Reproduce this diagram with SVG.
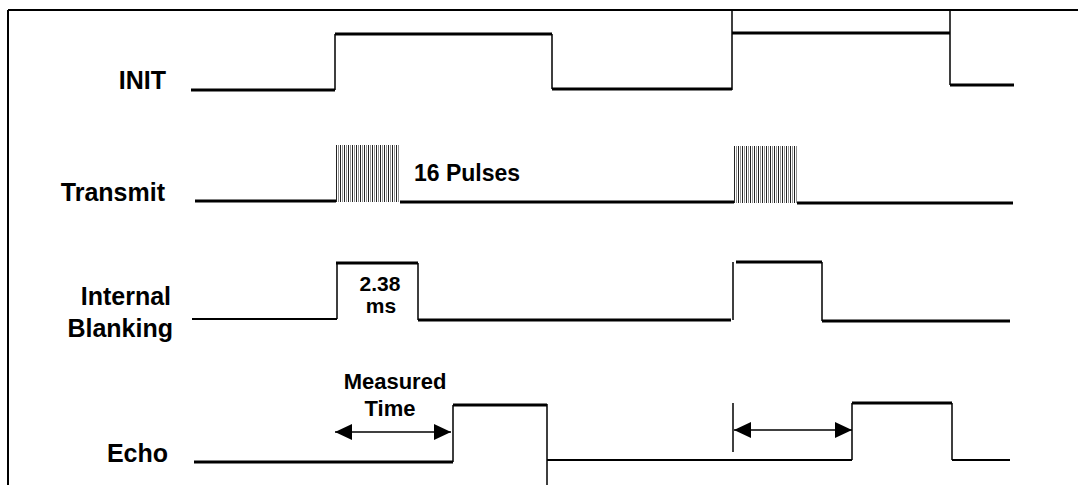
<svg xmlns="http://www.w3.org/2000/svg" width="1078" height="485" viewBox="0 0 1078 485">
<defs>
<style>
.lbl{font-family:"Liberation Sans",Arial,sans-serif;font-weight:bold;font-size:25px;fill:#000;text-anchor:end}
.note{font-family:"Liberation Sans",Arial,sans-serif;font-weight:bold;font-size:22px;fill:#000;text-anchor:middle}
.small{font-family:"Liberation Sans",Arial,sans-serif;font-weight:bold;font-size:21px;fill:#000;text-anchor:middle}
.h{stroke:#000;stroke-width:3;fill:none}
.hl{stroke:#000;stroke-width:2;fill:none}
.v{stroke:#000;stroke-width:1.5;fill:none}
.dim{stroke:#000;stroke-width:1.5;fill:none}
</style>
<marker id="ah" viewBox="0 0 17 16" refX="17" refY="8" markerWidth="17" markerHeight="16" markerUnits="userSpaceOnUse" orient="auto-start-reverse">
<path d="M0,0 L17,8 L0,16 z" fill="#000"/>
</marker>
<pattern id="pulses" x="336" y="0" width="4" height="10" patternUnits="userSpaceOnUse">
<rect x="0" y="0" width="1" height="10" fill="#222"/>
<rect x="2" y="0" width="0.8" height="10" fill="#777"/>
</pattern>
<pattern id="pulses2" x="734" y="0" width="4" height="10" patternUnits="userSpaceOnUse">
<rect x="0" y="0" width="1" height="10" fill="#222"/>
<rect x="2" y="0" width="0.8" height="10" fill="#777"/>
</pattern>
</defs>
<rect width="1078" height="485" fill="#fff"/>
<g id="frame">
<line x1="8" y1="10" x2="1078" y2="10" stroke="#000" stroke-width="2"/>
<line x1="8" y1="10" x2="8" y2="485" stroke="#000" stroke-width="2"/>
</g>
<g id="labels">
<text class="lbl" x="166" y="89">INIT</text>
<text class="lbl" x="165" y="201">Transmit</text>
<text class="lbl" x="171" y="305">Internal</text>
<text class="lbl" x="173" y="337">Blanking</text>
<text class="lbl" x="168" y="462">Echo</text>
</g>
<g id="init">
<path class="h" d="M191,90 H335 M335,34 H552 M552,89 H732 M732,33 H950 M950,85 H1014"/>
<path class="v" d="M335,90 V34 M552,34 V89 M732,90 V33 M950,33 V85"/>
<path class="v" d="M732,10 V33 M950,10 V33"/>
</g>
<g id="transmit">
<path class="h" d="M195,201 H336 M400,202 H734 M797,203 H1013"/>
<rect x="336" y="145" width="64" height="57" fill="url(#pulses)"/>
<rect x="734" y="146" width="63" height="57" fill="url(#pulses2)"/>
<text x="414" y="181" font-family="Liberation Sans, Arial, sans-serif" font-weight="bold" font-size="23" fill="#000">16 Pulses</text>
</g>
<g id="blanking">
<path class="hl" d="M192,319 H337"/>
<path class="h" d="M336,263 H418 M418,320 H731 M736,262 H822 M822,321 H1010"/>
<path class="v" d="M337,319 V263 M418,263 V320 M733,320 V262 M822,262 V321"/>
<text class="small" x="380" y="291">2.38</text>
<text class="small" x="381" y="313">ms</text>
</g>
<g id="echo">
<path class="h" d="M194,462 H453 M453,405 H547 M852,403 H952"/>
<path class="hl" d="M547,460 H852 M952,460 H1010"/>
<path class="v" d="M453,462 V405 M547,404 V485 M852,460 V403 M952,403 V460"/>
<text class="note" x="395" y="389">Measured</text>
<text class="note" x="390" y="416">Time</text>
</g>
<g id="connectors">
<line class="dim" x1="335" y1="432" x2="451" y2="432" marker-start="url(#ah)" marker-end="url(#ah)"/>
<line class="v" x1="733" y1="403" x2="733" y2="452"/>
<line class="dim" x1="734" y1="430" x2="852" y2="430" marker-start="url(#ah)" marker-end="url(#ah)"/>
</g>
</svg>
